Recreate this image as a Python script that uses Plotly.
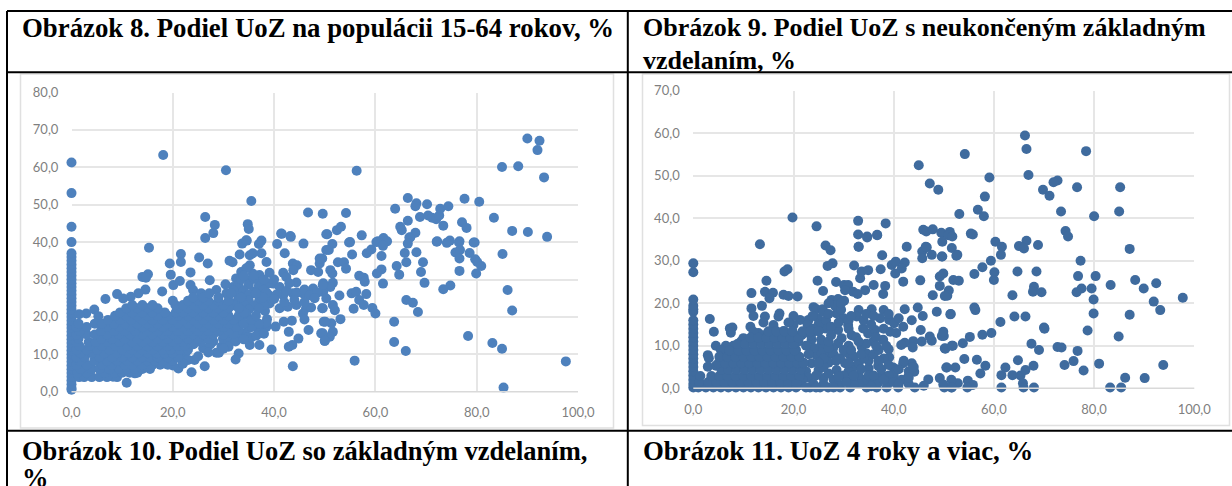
import plotly.graph_objects as go

# ---------- text ----------
TITLES = [
    ("Obrázok 8. Podiel UoZ na populácii 15-64 rokov, %", 19.5, 28, 26.8),
    ("Obrázok 9. Podiel UoZ s neukončeným základným", 641, 28, 26),
    ("vzdelaním, %", 641, 60, 26),
    ("Obrázok 10. Podiel UoZ so základným vzdelaním,", 19.5, 451, 26.5),
    ("%", 19.5, 478, 26.5),
    ("Obrázok 11. UoZ 4 roky a viac, %", 641, 451, 26.8),
]
X_TICKS = [0, 20, 40, 60, 80, 100]
LEFT_Y_TICKS = [0, 10, 20, 30, 40, 50, 60, 70, 80]
RIGHT_Y_TICKS = [0, 10, 20, 30, 40, 50, 60, 70]

# ---------- chart 8: estimated (x, y) readings ----------
LEFT_COLUMN_Y = [0.5, 1, 2, 3, 4, 5, 6, 7, 8, 9, 10, 11, 12, 13, 14, 15, 16, 17, 18, 19, 20, 21, 22, 23, 24, 25, 26, 27,
                 28, 29, 30, 31, 32, 33, 34, 35, 36, 37, 40, 44.1, 53.1, 61.3]
LEFT_POINTS = [
    (18.1,63.3),(30.5,59.2),(56.3,59.1),(35.5,51.0),(26.4,46.7),(28.3,44.6),(28.0,42.4),(26.4,41.1),(34.8,44.8),(35.0,43.5),
    (34.6,40.4),(37.5,40.4),(41.5,42.2),(43.3,41.4),(46.7,47.9),(49.6,47.6),(54.2,47.8),(50.5,42.1),(52.4,43.2),(53.2,44.1),
    (57.3,41.8),(55,40),(60.5,40.2),(61.6,41.1),(62.3,40.2),(63.9,48.9),(64.9,44.1),(65.2,43.2),(66.4,51.8),(68.1,50.4),
    (67.9,49.6),(70.2,50.1),(66.4,45.7),(68.8,46.7),(66.9,41.3),(67.9,42.5),(70.4,47.1),(71.2,46.5),(72,46.1),(72.6,47.1),
    (72.8,48.9),(74.4,49.6),(73.4,44.4),(72.2,40.2),(74.7,40.4),(76.6,40.2),(77.6,51.6),(80.5,50.8),(77.1,45.3),(78,43.8),
    (79.6,39.9),(83.4,46.5),(85,60.1),(88.2,60.3),(90,67.7),(92.4,67.1),(92,64.6),(93.3,57.3),(87,43),(90.1,42.7),(93.9,41.4),
    (50.3,42.1),(51.5,39.5),(50.8,37.9),(54.8,39.9),(55.4,36.7),(58.3,37),(59.2,38),(60.2,40),(61.5,39),(61.2,36.3),
    (66.7,41.2),(66.4,39.6),(65.8,37.1),(68.1,37.3),(72.1,40.1),(74.1,39.8),(76.5,39.9),(79.4,39.9),(75.8,37.2),(76.7,37.9),
    (76.6,35.6),(78.6,37.1),(79.7,35.4),(80.1,34.7),(80.9,33.6),(79.9,31.6),(76.6,32.3),(85.1,36.8),(66.1,34.6),(69.4,34.6),
    (69,32),(64.2,33.6),(64.7,31.3),(61.2,32.7),(60.3,31.6),(61.5,28.9),(69.7,29.1),(74.8,28.4),(73.4,27.4),(86.1,27.2),
    (87,21.7),(52.6,34.6),(53.8,34.6),(54.2,32.9),(51.1,32.5),(51.5,31.6),(49,34.3),(49.5,35.6),(56.8,31),(57.7,30.5),
    (57.9,29.4),(51.6,29.1),(51.1,28),(49.7,29),(49.7,26.7),(52.9,25.7),(55.3,26.3),(56.2,26.7),(58.2,26.1),(50.3,24.9),
    (56.8,24.5),(57.7,23.2),(55.7,22.2),(59.4,22.4),(60,20.9),(51.6,23.2),(52,21.8),(49.5,22.3),(53.1,19.4),(49.8,18.7),
    (51.3,18.3),(51.6,16),(51,14.7),(50,13.6),(49.3,15.6),(66.1,24.5),(67.4,23.8),(68.4,21.3),(63.7,18.7),(63.7,13.3),
    (66,10.9),(55.9,8.3),(78.3,14.9),(83.1,13),(85,11.5),(85.3,1.1),(97.6,8.1),
    (15.3,38.5),(21.6,36.8),(21.6,34.7),(19.4,34.3),(25.2,35.9),(26.9,34.3),(19.6,31.3),(23.5,31.9),(14,30.7),(15.1,31.4),
    (14.7,30.5),(20.1,28.5),(21.4,29.6),(17.9,26.8),(14.6,27.3),(13.2,26.3),(11.7,25.4),(9,26.1),(10.2,24.9),(6.7,24.8),
    (4.5,22),(2.9,20.9),(5.3,20.2),(1.5,20.7),(27.3,29.8),(23.5,28.5),(24,27.2),(25.6,26.3),(31.2,35),(31.8,34.6),
    (33.2,36.7),(33.7,39.6),(34.5,40.5),(37,39.5),(40.6,39.5),(41.4,42.3),(43.2,41.6),(45.8,39.6),(42.1,37),(37.5,37),
    (38.5,34.7),(35.2,36.5),(35.8,37),(43.7,34.3),(44.5,33.8),(43.8,32.5),(49,35.6),(50.3,37.9),(47.3,32.5),(48.7,32),
    (35.2,33.8),(33.5,32),(32.5,30.3),(39.1,31.8),(41.8,31.8),(37.1,31.2),(35.8,31.6),(34.5,33),(42.4,30.7),(44.4,29.2),
    (39.8,28.9),(41.1,28),(38.8,28.9),(37.1,28.9),(35.2,29.8),(30.4,28.7),(31.9,28),(28.6,27.2),(30.6,26.3),(33.2,27.6),
    (35.8,26.3),(34.5,25.4),(32.6,24),(37.1,27.2),(41.8,25.8),(43.7,26.3),(45.7,26.3),(47.7,27.6),(49.6,28.5),(39.1,23.6),
    (41.1,22.3),(42.7,22.7),(44.4,23.2),(46.3,22.3),(47.3,22.5),(49.6,22.3),(45.7,20.9),(46,19.3),(50.1,18.7),(43.5,19),
    (41.9,18.7),(42.9,16),(46.8,16.5),(49.6,15.6),(50,13.6),(44.8,14.2),(43.6,12.5),(42.9,12),(39.5,11.3),(43.7,6.8),
    (40.3,17.4),(38.5,17.4),(37.1,12.5),(35.2,12.5),(35.5,14.5),(34.2,15.6),(33.2,14.7),(33,10.2),(32.4,8.6),(29.6,12),
    (28.6,10.4),(29.1,10.4),(26,11.6),(24.1,12.7),(28,13.4),(29.9,14.2),(31.2,14.7),(24.3,8.5),(26.3,6.8),(23.7,5.2),
    (21.1,6.2),(18.8,7.6),(12.5,4.9),(10.9,2.4),(8.2,4),(6,4.4),
    (22.6,10.6),(21.6,8.8),(20.2,9.9),(25.6,13.2),(27.4,12.6),(31,13.2),(32.4,13.4),(38.6,19.4),(38.2,21.6),(35.8,22.9),
    (33,28.5),(35,28.6),(37,28.3),(32,27),(34,27),(36,26.8),(38,27.2),(31,25.8),(33,25.6),(35,25.9),
    (37,25.6),(39,25.8),(33,24.2),(35,24.4),(37,24.1),(39,24.3),(32,23.1),(34,23.3),(36,23),(38,23.2),
    (35,22),(37,22.2),(33.5,30),(36,30.2),(38,30),(34,31),(36,31.1),(40.5,26),(42.5,27),(44.5,26.5),
    (46,27.3),(47,25.8),(48.5,26.5),(44,24.5),(46,24),(48,25),(40,24.8),(38.5,26.5),(42,24),(40,30),
    (43,29),(33,16.5),(35,17),(37,16.5),(32,15.5),(36.5,15),(34,14),(31,12),(38,15.5),(33,19),
    (34.5,20.5),(38.5,18.5),(30,11.5),(27,10.5),(25,9.5),(23,8.5),(22,7.5),(20,7),(30,17),(32,18.5),
]
# dense core of chart 8, read band by band: (y, [x, ...])
LEFT_BANDS = [
    (3.9, [1.5, 2.5, 4, 5.5, 7, 9]),
    (5.1, [1.2, 3, 6.5, 8.5, 10, 11.5, 13]),
    (6.1, [1.8, 4, 5.5, 7.5, 9.5, 11, 12.5, 14, 15.5]),
    (7.2, [1, 3, 6, 8, 10.5, 12, 14, 16, 17.5, 19]),
    (8.3, [1.6, 4.5, 7, 9, 11, 13, 15, 16.5, 18, 20]),
    (9.2, [1, 2.6, 5.5, 8, 10, 12, 14, 15.5, 17, 19, 21]),
    (10.3, [1.8, 4, 6.5, 9, 11.2, 13.2, 15, 16.8, 18.4, 20]),
    (11.2, [1, 3, 5, 7.5, 10, 12, 14, 16, 18, 19.6, 21.4, 23]),
    (12.2, [1.6, 3.6, 6, 8.6, 11, 13, 15, 17, 19, 21, 22.4]),
    (13.3, [0.9, 3.4, 4.8, 7, 9.5, 12, 14, 16, 18, 20, 22, 24]),
    (14.2, [1.4, 5.8, 8, 10.5, 13, 15, 17, 19, 21, 23, 25, 27]),
    (15.3, [1, 3, 4.6, 7, 9.4, 11.6, 14, 16, 18, 20, 22, 24, 26, 28, 30]),
    (16.2, [1.6, 5.8, 8.4, 10.4, 12.6, 15, 17, 19, 21, 23, 25, 27, 29, 31]),
    (17.3, [1, 3, 7, 9.4, 11.6, 14, 16, 18, 20, 22, 24, 26, 28, 30, 32.5, 35.6]),
    (18.2, [1.4, 4.6, 6, 8.4, 10.6, 13, 15, 17, 19, 21, 23, 25, 27, 29, 31, 34, 37]),
    (19.2, [7.2, 9.6, 11.8, 14, 16, 18, 20, 22, 24, 26, 28, 30, 32, 35.5]),
    (20.3, [8.6, 10.8, 13, 15, 17, 19, 21, 23, 25, 27, 29, 31, 33, 36.4]),
    (21.2, [9.6, 12, 14, 16, 18.4, 20.6, 22, 24, 26, 28, 30, 34]),
    (22.3, [10.8, 13, 15, 17, 21, 23, 25, 27, 29, 31, 33]),
    (23.2, [12, 14, 16, 20.5, 22, 24, 26, 28, 30]),
    (24.3, [20, 23, 25, 27, 29, 31]),
    (25.2, [24, 26, 29, 33.5, 37.8]),
    (26.3, [27.2, 31.5, 36.4]),
]

# ---------- chart 9: estimated (x, y) readings ----------
RIGHT_COLUMN_Y = [0.2, 1, 2, 3, 4, 5, 6, 7, 8, 9, 10, 11, 12, 13, 14, 15, 16, 18, 18.6, 19.4, 20.9, 27.3, 29.4]
RIGHT_POINTS = [
    (66.2,59.5),(66.5,56.3),(78.4,55.8),(54.2,55.1),(45,52.5),(59.1,49.6),(66.9,50.2),(72.7,48.9),(71.9,48.5),(47.2,48.2),
    (48.9,46.7),(69.8,46.7),(76.6,47.3),(85.2,47.3),(71.1,45.3),(58.2,45.1),(56.8,42),(58,40.5),(53.1,41),(73.4,41.6),
    (85,41.6),(80,40.5),(19.8,40.2),(24.6,38.1),(32.9,39.4),(38.4,38.8),(32.9,36.2),(34.7,35.7),(36.7,36.1),(45.9,37.3),
    (46.5,36.9),(47.8,37.4),(49.5,36.6),(51.2,36.8),(50.9,36),(51.7,35.7),(55.4,36.4),(55.8,36.2),(74.3,37),(74.8,35.7),
    (60.3,34.5),(66.5,34.7),(13.3,33.9),(26.4,33.6),(27.4,32.5),(33,33.3),(42.6,33.3),(45.7,32.2),(46.6,33.2),(47.6,31.4),
    (45.7,30.6),(49.7,34.5),(49.7,31),(51.6,33),(52.7,31.4),(61.6,33.3),(61.4,31.4),(59.4,30),(65,33.5),(66,32.9),
    (68.8,33.7),(87.1,32.8),(77.3,30),(52.5,31.2),(57.7,28.5),(56.1,26.9),(60.1,27.3),(60,25.5),(64.7,27.5),(68.5,27.5),
    (76.8,26.4),(80.3,26.4),(83.3,24.3),(88.2,25.5),(92.4,24.7),(89.9,23.5),(79.5,23.5),(77.5,23.5),(76.5,22.6),(68,23.9),
    (67.8,22.7),(69.5,22.6),(63.7,21.9),(51.9,25.5),(53,25.3),(51,23),(50.7,21.8),(79.9,20.9),(91.9,20.4),(97.7,21.3),
    (93.2,18.4),(79.9,17.6),(87.1,17.3),(56.1,19),(56.3,18.4),(51.3,17.4),(61.3,15.6),(64.1,16.9),(66.3,16.9),(70,14.3),
    (70.1,14),(78.7,13.6),(84.9,12.2),(59.5,13),(57.7,12.6),(55.2,12.1),(53.8,10.6),(51.8,10),(50.3,9.3),(50,12.3),
    (67.5,10.5),(69,9),(72.7,9.7),(73.5,9.6),(76.7,8.8),(75.9,6.4),(74.1,5.5),(77.9,4.2),(81,5.8),(93.8,5.5),
    (64.8,6.6),(67.9,5.3),(62.3,4.9),(58.3,5.3),(56.6,6.7),(54.1,6.9),(52.3,4.9),(50.5,4.9),(57.3,3.5),(61.5,3.1),
    (63.7,3.1),(65.3,3),(66.3,4.3),(65.8,1.2),(65.9,0.2),(61.5,0.2),(68,0.2),(83.2,0.2),(85.4,0.2),(86.2,2.5),
    (90.1,2.4),(54.8,1.8),(55.8,0.8),(54.7,0.2),(52.8,1.2),(51.5,2),(51.5,0.2),(50.1,0.2),
    (34.7,35.5),(36.7,36),(33,33.3),(37.7,31.3),(46.4,33.3),(49.6,31),(27.8,29.4),(26.8,28.8),(18.8,28),(18.2,27.5),
    (32.1,28.9),(14.6,25.3),(11.6,22.4),(14.3,22.7),(15.9,22.5),(15.2,21.2),(18,22),(19,21.7),(20.8,21.6),(24.8,25.3),
    (25.9,22.9),(28.5,25),(30.1,24.3),(30.9,24.3),(31.9,22.7),(33.3,25.9),(33.6,27.5),(34.9,27.8),(37.4,28),(39.6,29),
    (40.4,29.8),(42.2,29.6),(40.3,27),(41.6,28.2),(41.9,25.1),(45.3,25.4),(49.2,26.3),(49.9,27),(49.2,24.1),(47.8,21.9),
    (50.2,21.7),(38.3,24.1),(37.9,22.2),(36,24.3),(34.3,23.1),(32.8,22.2),(30.3,23.1),(11.6,18.8),(12,17),(13.7,19.4),
    (14.3,16.9),(14,15.5),(17.2,17.6),(17,16.9),(16,14.9),(3.3,16.3),(4.1,13.3),(7.3,14.1),(7.8,14.3),(7.5,13.1),
    (11.4,14.5),(4.5,10),(10,11.8),(2.9,7.8),(3.1,7.1),(8,10),(6.3,8.6),(2.9,5.1),(4.5,5.3),(27.6,20.8),
    (28.9,21),(30.1,20.6),(24,19.1),(24.6,18.6),(25.8,18.6),(28.3,19.4),(28.6,17.6),(30,16.5),(33,18.4),(32.6,16.9),
    (35.6,18.6),(38,18.4),(37.3,16.5),(39.1,16.1),(40.1,15.3),(39.3,13.3),(41.9,14.5),(42.2,18.6),(44.8,19),(45.8,17),
    (43.6,16),(48.6,18),(51.4,17.5),(45.4,13.7),(47.2,12.2),(49.6,12.3),(49.9,13.3),(47.6,11.2),(45.6,11),(43.9,11.1),
    (42.2,10.7),(41.5,10.2),(43.8,9.6),(50.2,9.4),(51.6,10),(39,9.2),(39.1,7.3),(50.6,4.9),(46.9,2.1),(49.2,2.4),
    (46,0.6),(49.9,0.9),(51.6,0.2),(44.1,3.9),(43.6,5.9),(41.9,5.9),(39.9,4.9),(42.9,2.7),(44.2,0.2),(40.9,0.2),
    (41.6,2),(36.9,5.3),(35,4.7),(37.6,3.1),(38.9,1.2),(38.6,0.2),(36.6,0.2),(34.6,0.2),(34.3,2),(35.6,1.6),
    (31.3,0.2),(29.3,0.2),(26.9,0.2),(25.3,0.2),(23.3,0.2),(21.3,0.8),(31.6,2),(26,2.4),(32,5.1),(28.6,4.3),
    (25,4.3),(30.3,5.9),(29.3,7.1),(26.9,7.8),(24.6,7.8),(23.6,5.9),(33,5.9),(34.6,8.2),(33.6,9.8),(35.9,11),
    (37.9,11.4),(34.9,12.9),(36.3,13.7),(33.9,14.1),(30.9,14.9),(28.9,13.7),(26.3,14.1),(24.9,16.5),(23,16.1),(21.3,16.1),
    (20,14.9),(19,12.9),(20.3,12.5),(23.6,11.4),(21.6,12.5),(25.5,10),(28.9,10.6),(30.9,8.2),(31.6,12.5),(29.6,11.8),(27.9,9.4),
    (22,13),(22.8,15),(23.8,17),(25,15),(26.5,16),(27.5,14.5),(29,15.5),(31,16),(31,14),(32.5,12),
    (34,16),(35.5,15),(36.5,12),(38,14),(40.5,13),(34.5,10.5),(31,10),(30,9),(32,7.5),(28,8),
    (25.5,8.5),(24,9.5),(22.5,10),(23,8),(22,6),(22.5,4),(23,2.5),(24.5,3),(27,6),(28.5,6.5),
    (31,4),(30,3),(28,2),(29,1),(33,3),(33,1),(35,6.5),(36,8),(37,9),(38,7),
    (37,6.5),(40,3),(41,4.5),(39,3),(21.8,2),(24,1),(26,1),(32,1),(37,1.5),(40,1.5),
    (43,1),(43,4),(38.5,10),(36.5,10),(20.5,9),(21,11),(18,13.5),(16.8,13),(14,12.5),(13,13),
    (12,13.3),(9.5,11),(6.5,10),(5.5,9),(20,17),(19,15.5),(26,18),(27,17.5),(29.5,18.5),(31.5,17),
    (34.5,17.5),(36,17),(39,17.5),(41,16.5),(27,20),(29.5,20),
    (22.5,0.2),(24.5,0.2),(28,0.2),(30.5,1.5),(27,3.5),(26,5),(29,2.8),(31,6),(33.5,4.5),(32,3),
    (35,3),(35.5,0.5),(38,2),(41,1),(37.5,4.5),(34,7),(27,9.5),(23.5,12.5),(25.5,11.5),(27,11),
    (24,14),(27.5,12.5),(33,11),(33.5,8),(31.5,9),(26,7),(25,6),(42,6.5),(44,5),(39,5.5),(36,3),(43,2.5),
]
RIGHT_BANDS = [
    (0.2, [1, 2.5, 4, 5.5, 7, 8.5, 10, 11.5, 13, 14.5, 16, 17.5, 19, 20.5]),
    (1.5, [1.2, 3, 4.6, 6.2, 7.8, 9.4, 11, 12.6, 14.2, 15.8, 17.4, 19, 20.6]),
    (2.9, [1.4, 3.6, 5.2, 6.8, 8.4, 10, 11.6, 13.2, 14.8, 16.4, 18, 19.6, 21.2]),
    (4.4, [5.6, 7, 8.6, 10.2, 11.8, 13.4, 15, 16.6, 18.2, 19.8, 21.4]),
    (5.9, [5, 6.4, 8, 9.6, 11.2, 12.8, 14.4, 16, 17.6, 19.2, 20.8, 22]),
    (7.4, [5.2, 6.8, 8.4, 10, 11.6, 13.2, 14.8, 16.4, 18, 19.6, 21.2]),
    (8.9, [7.2, 9, 10.6, 12.2, 13.8, 15.4, 17, 18.6, 20.2]),
    (10.4, [8.8, 10.4, 12, 13.6, 15.2, 16.8, 18.4, 20]),
    (11.9, [11.4, 13, 14.6, 16.2, 17.8, 19.4, 21]),
    (13.4, [15, 16.6, 18.2, 19.8, 21.8, 23.4, 25]),
]


def assemble(column_y, points, bands):
    xs = [0.0] * len(column_y) + [p[0] for p in points]
    ys = list(column_y) + [p[1] for p in points]
    for y, band_x in bands:
        xs += band_x
        ys += [y] * len(band_x)
    return xs, ys


W, H = 1232, 486
left_x, left_y = assemble(LEFT_COLUMN_Y, LEFT_POINTS, LEFT_BANDS)
right_x, right_y = assemble(RIGHT_COLUMN_Y, RIGHT_POINTS, RIGHT_BANDS)

fig = go.Figure()
fig.add_trace(go.Scatter(x=left_x, y=left_y, mode="markers", xaxis="x", yaxis="y", cliponaxis=False,
                         marker=dict(color="#4E81BD", size=10, line=dict(width=0))))
fig.add_trace(go.Scatter(x=right_x, y=right_y, mode="markers", xaxis="x2", yaxis="y2", cliponaxis=False,
                         marker=dict(color="#3F6B9E", size=10, line=dict(width=0))))

axis_style = dict(showgrid=True, gridcolor="#E6E6E6", gridwidth=1.5, zeroline=False, showline=False, automargin=False,
                  ticks="outside", tickcolor="rgba(0,0,0,0)", tickformat=".1f",
                  tickfont=dict(family="Lato", size=13, color="#7F7F7F"))


def px_x(a, b):
    return [a / W, b / W]


def px_y(a, b):
    return [1 - b / H, 1 - a / H]


fig.update_layout(
    width=W, height=H, margin=dict(l=0, r=0, t=0, b=0, autoexpand=False), paper_bgcolor="white", plot_bgcolor="white",
    showlegend=False, separators=", ",
    xaxis=dict(domain=px_x(71.5, 578), range=[0, 100], tickvals=X_TICKS, ticklen=9, anchor="y", **axis_style),
    yaxis=dict(domain=px_y(92.5, 391.7), range=[0, 80], tickvals=LEFT_Y_TICKS, ticklen=9.5, anchor="x", **axis_style),
    xaxis2=dict(domain=px_x(693.3, 1194.3), range=[0, 100], tickvals=X_TICKS, ticklen=9, anchor="y2", **axis_style),
    yaxis2=dict(domain=px_y(90.8, 388.3), range=[0, 70], tickvals=RIGHT_Y_TICKS, ticklen=10, anchor="x2", **axis_style),
)


def rect(x0, y0, x1, y1, color, width):
    fig.add_shape(type="rect", xref="paper", yref="paper", x0=x0 / W, x1=x1 / W, y0=1 - y0 / H, y1=1 - y1 / H,
                  line=dict(color=color, width=width), fillcolor="rgba(0,0,0,0)", layer="below")


def line(x0, y0, x1, y1, color="#000000", width=2):
    fig.add_shape(type="line", xref="paper", yref="paper", x0=x0 / W, x1=x1 / W, y0=1 - y0 / H, y1=1 - y1 / H,
                  line=dict(color=color, width=width), layer="above")


rect(20.5, 74, 613.5, 428, "#E0E0E0", 1.5)
rect(642.5, 74, 1229.5, 425.5, "#E0E0E0", 1.5)
line(71.5, 391.7, 578, 391.7, "#D9D9D9", 1.5)
line(693.3, 388.3, 1194.3, 388.3, "#D9D9D9", 1.5)
line(7, 11, W, 11)
line(7, 72.3, W, 72.3)
line(7, 430.7, W, 430.7)
line(7, 11, 7, H)
line(627.8, 11, 627.8, H)

for text, x, y, size in TITLES:
    fig.add_annotation(text=f"<b>{text}</b>", xref="paper", yref="paper", x=x / W, y=1 - y / H, xanchor="left",
                       yanchor="middle", showarrow=False, align="left",
                       font=dict(family="Liberation Serif", size=size, color="#000000"))

fig.write_html(
    "out.html",
    config={"displayModeBar": False},
    post_script="document.body.style.margin='0';document.documentElement.style.overflow='hidden';",
)
